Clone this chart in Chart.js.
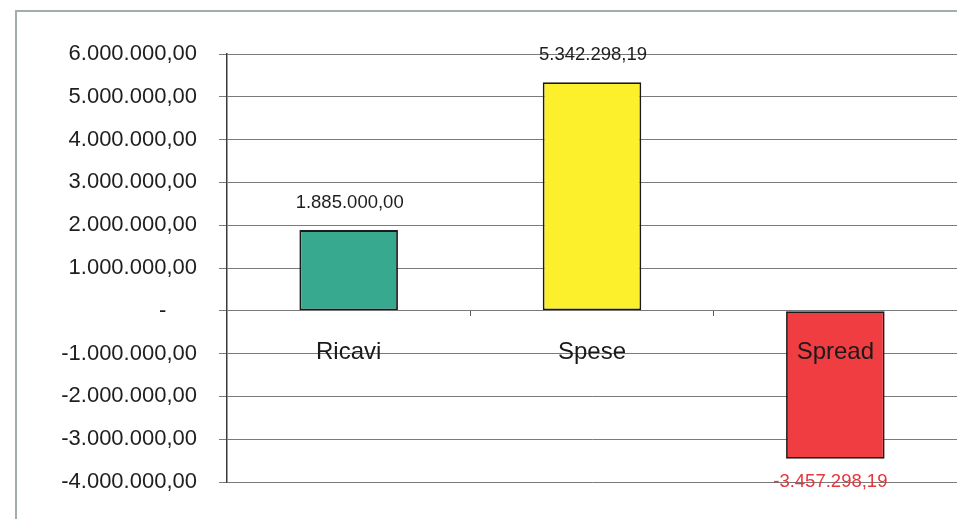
<!DOCTYPE html>
<html>
<head>
<meta charset="utf-8">
<script src="https://cdn.jsdelivr.net/npm/chart.js@4"></script>
<style>
html,body{margin:0;padding:0;background:#fff;}
#wrap{width:957px;height:519px;position:relative;}
</style>
</head>
<body>
<div id="wrap"><canvas id="c" width="957" height="519"></canvas></div>
<script>
const categories = ["Ricavi", "Spese", "Spread"];
const values = [1885000.00, 5342298.19, -3457298.19];
const barColors = ["#36a98e", "#fcef2c", "#ef3d42"];
const yTickValues = [6000000, 5000000, 4000000, 3000000, 2000000, 1000000, 0, -1000000, -2000000, -3000000, -4000000];
const yTickLabels = ["6.000.000,00", "5.000.000,00", "4.000.000,00", "3.000.000,00", "2.000.000,00", "1.000.000,00", "-     ", "-1.000.000,00", "-2.000.000,00", "-3.000.000,00", "-4.000.000,00"];

function fmtIt(v) {
  const neg = v < 0;
  const a = Math.abs(v);
  const parts = a.toFixed(2).split(".");
  const intPart = parts[0].replace(/\B(?=(\d{3})+(?!\d))/g, ".");
  return (neg ? "-" : "") + intPart + "," + parts[1];
}

const frame = {
  id: "frame",
  beforeDraw(chart) {
    const ctx = chart.ctx;
    ctx.save();
    ctx.strokeStyle = "#a3adad";
    ctx.lineWidth = 2;
    ctx.beginPath();
    ctx.moveTo(16, 530);
    ctx.lineTo(16, 11);
    ctx.lineTo(970, 11);
    ctx.stroke();
    ctx.restore();
  }
};

const dataLabels = {
  id: "dataLabels",
  afterDraw(chart) {
    const ctx = chart.ctx;
    const meta = chart.getDatasetMeta(0);
    ctx.save();
    ctx.font = "18.5px 'Liberation Sans', Arial, sans-serif";
    ctx.textAlign = "center";
    ctx.textBaseline = "middle";
    meta.data.forEach((bar, i) => {
      const v = values[i];
      if (v >= 0) {
        ctx.fillStyle = "#1e1e1e";
        ctx.fillText(fmtIt(v), bar.x + 1, bar.y - 27);
      } else {
        ctx.fillStyle = "#e8343a";
        ctx.fillText(fmtIt(v), bar.x - 5, bar.y + 23);
      }
    });
    ctx.restore();
  }
};

new Chart(document.getElementById("c"), {
  type: "bar",
  data: {
    labels: categories,
    datasets: [{
      data: values,
      backgroundColor: barColors,
      borderColor: "#1a1a1a",
      borderWidth: 1.8,
      borderSkipped: false,
      barPercentage: 0.405,
      categoryPercentage: 1.0
    }]
  },
  options: {
    responsive: false,
    animation: false,
    devicePixelRatio: 1,
    layout: { padding: { top: 54, bottom: 37, left: 0, right: 0 } },
    plugins: { legend: { display: false }, tooltip: { enabled: false } },
    scales: {
      y: {
        min: -4000000,
        max: 6000000,
        afterFit(scale) { scale.width = 227; },
        afterBuildTicks(scale) { scale.ticks = yTickValues.map(v => ({ value: v })); },
        ticks: {
          padding: 22,
          color: "#1e1e1e",
          font: { family: "'Liberation Sans', Arial, sans-serif", size: 22 },
          callback(value) {
            const i = yTickValues.indexOf(value);
            return i >= 0 ? yTickLabels[i] : "";
          }
        },
        grid: { color: "#7a7a7a", lineWidth: 1, tickLength: 8, drawTicks: true },
        border: { display: true, color: "#3a3a3a", width: 1.5 }
      },
      x: {
        position: { y: 0 },
        ticks: {
          z: 1,
          padding: 22,
          color: "#1a1a1a",
          autoSkip: false,
          font: { family: "'Liberation Sans', Arial, sans-serif", size: 24 },
          maxRotation: 0
        },
        grid: { offset: true, drawOnChartArea: false, drawTicks: true, tickLength: 5, color: "#5a5a5a" },
        border: { display: true, color: "#7a7a7a", width: 1 }
      }
    }
  },
  plugins: [frame, dataLabels]
});
</script>
</body>
</html>
